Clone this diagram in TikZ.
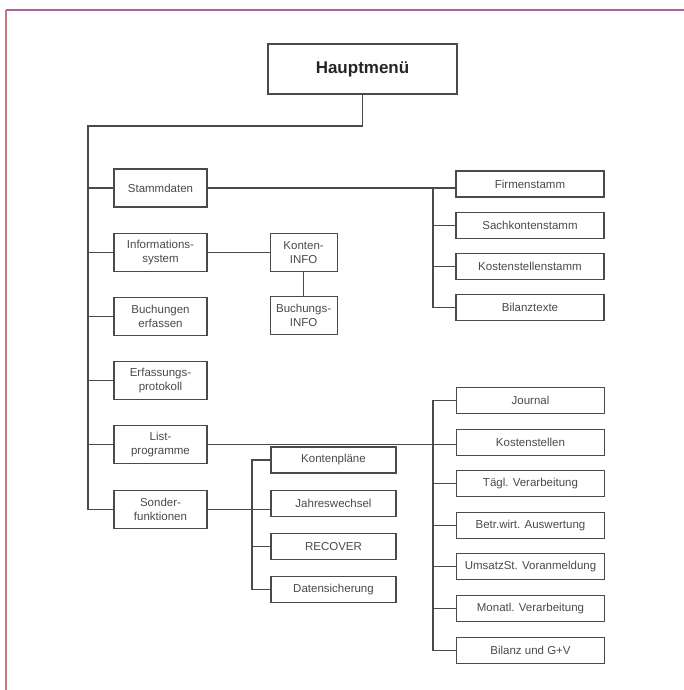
\documentclass[tikz,border=0pt]{standalone}
\usepackage{fontspec}
\setmainfont{Liberation Sans}
\usepackage{tikz}
\usetikzlibrary{positioning}

\definecolor{framepurple}{HTML}{A8649A}
\definecolor{framered}{HTML}{C27C7C}
\definecolor{inkgray}{HTML}{4A4A4A}

\begin{document}
\begin{tikzpicture}[x=1pt, y=-1pt, node distance=25pt and 62pt,
		every node/.style={font=\fontsize{11.5}{14}\selectfont, text=inkgray},
		menubox/.style={draw=inkgray, line width=1.1pt, fill=white, align=center, inner sep=0pt},
		mainbox/.style={menubox, minimum width=189pt, minimum height=50pt, font=\fontsize{17}{20}\selectfont\bfseries, text=black!85},
		leftbox/.style={menubox, minimum width=93pt, minimum height=38pt},
		infobox/.style={menubox, minimum width=67pt, minimum height=38pt},
		rightbox/.style={menubox, minimum width=148pt, minimum height=26pt},
		subbox/.style={menubox, minimum width=125pt, minimum height=26pt},
		link/.style={draw=inkgray, line width=1.1pt}]
		\useasboundingbox (0,0) rectangle (684,690);

		% Frame
		\draw[framered, line width=1.6pt] (6,690) -- (6,10);
		\draw[framepurple, line width=1.8pt] (6,10) -- (684,10);

		% Nodes
		\node[mainbox] (haupt) at (362.5,69) {Hauptmenü};

		\node[leftbox] (stamm) at (160.5,188) {Stammdaten};
		\node[leftbox] (info) [below=of stamm] {Informations-\\system};
		\node[leftbox] (buch) [below=of info] {Buchungen\\erfassen};
		\node[leftbox] (erfass) [below=of buch] {Erfassungs-\\protokoll};
		\node[leftbox] (list) [below=of erfass] {List-\\programme};
		\node[leftbox] (sonder) [below=26pt of list] {Sonder-\\funktionen};

		\node[infobox] (kinfo) [right=of info] {Konten-\\INFO};
		\node[infobox] (binfo) [below=24pt of kinfo] {Buchungs-\\INFO};

		\node[rightbox] (firmen) at (530,184) {Firmenstamm};
		\node[rightbox] (sach) [below=14pt of firmen] {Sachkontenstamm};
		\node[rightbox] (kostst) [below=14pt of sach] {Kostenstellenstamm};
		\node[rightbox] (bilanzt) [below=14pt of kostst] {Bilanztexte};

		\node[rightbox] (journal) at (530.5,400.5) {Journal};
		\node[rightbox] (kosten) [below=14.5pt of journal] {Kostenstellen};
		\node[rightbox] (taegl) [below=14.5pt of kosten] {Tägl. Verarbeitung};
		\node[rightbox] (betr) [below=14.5pt of taegl] {Betr.wirt. Auswertung};
		\node[rightbox] (umsatz) [below=14.5pt of betr] {UmsatzSt. Voranmeldung};
		\node[rightbox] (monatl) [below=14.5pt of umsatz] {Monatl. Verarbeitung};
		\node[rightbox] (bilanz) [below=14.5pt of monatl] {Bilanz und G+V};

		\node[subbox] (kontenpl) at (333.5,460) {Kontenpläne};
		\node[subbox] (jahres) [below=16pt of kontenpl] {Jahreswechsel};
		\node[subbox] (recover) [below=16pt of jahres] {RECOVER};
		\node[subbox] (datens) [below=16pt of recover] {Datensicherung};

		\coordinate (trunk) at (88,126);
		\coordinate (sbus) at (433,0);
		\coordinate (lbus) at (433,0);
		\coordinate (sobus) at (252,0);

		% Edges
		\draw[link] (haupt.south) |- (trunk) |- (sonder.west);
		\foreach \n in {stamm,info,buch,erfass,list}
			\draw[link] (trunk |- \n.west) -- (\n.west);

		\draw[link] (stamm.east) -- (stamm.east -| firmen.west);
		\draw[link] (sbus |- stamm.east) |- (bilanzt.west);
		\foreach \n in {sach,kostst}
			\draw[link] (sbus |- \n.west) -- (\n.west);

		\draw[link] (info.east) -- (kinfo.west);
		\draw[link] (kinfo.south) -- (binfo.north);

		\draw[link] (list.east) -- (list.east -| kosten.west);
		\draw[link] (journal.west) -| (lbus |- bilanz.west) -- (bilanz.west);
		\foreach \n in {taegl,betr,umsatz,monatl}
			\draw[link] (lbus |- \n.west) -- (\n.west);

		\draw[link] (sonder.east) -- (sonder.east -| jahres.west);
		\draw[link] (kontenpl.west) -| (sobus |- datens.west) -- (datens.west);
		\draw[link] (sobus |- recover.west) -- (recover.west);
	\end{tikzpicture}
\end{document}
